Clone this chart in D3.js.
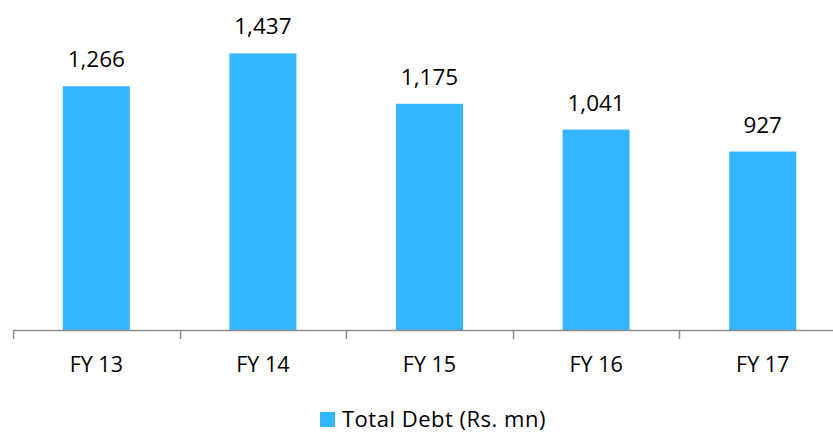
<!DOCTYPE html>
<html><head><meta charset="utf-8">
<script src="https://cdn.jsdelivr.net/npm/d3@7"></script>
<style>body{margin:0;background:#fff}svg{display:block}</style>
</head><body>
<script>
const categories = ["FY 13","FY 14","FY 15","FY 16","FY 17"];
const values = [1266,1437,1175,1041,927];
const seriesName = "Total Debt (Rs. mn)";

const W=833,H=434;
const svg=d3.select("body").append("svg").attr("width",W).attr("height",H);
const font="'Open Sans', Calibri, sans-serif";
const color="#33b5ff";

const x=d3.scaleBand().domain(categories.concat(["_"])).range([13,13+166.6*6]).paddingInner(0).paddingOuter(0);
const y=d3.scaleLinear().domain([0,1600]).range([330,22]);
const bw=67;

svg.selectAll("rect.bar").data(values).join("rect")
 .attr("x",(d,i)=>x(categories[i])+x.bandwidth()/2-bw/2)
 .attr("width",bw)
 .attr("y",d=>y(d)).attr("height",d=>y(0)-y(d))
 .attr("fill",color);

svg.selectAll("text.val").data(values).join("text")
 .attr("x",(d,i)=>x(categories[i])+x.bandwidth()/2)
 .attr("y",d=>y(d)-19)
 .attr("text-anchor","middle")
 .attr("font-family",font).attr("font-size",22.5).attr("fill","#000")
 .text(d=>d3.format(",")(d));

// axis
const ax=svg.append("g");
ax.append("line").attr("x1",13).attr("x2",W).attr("y1",330.5).attr("y2",330.5).attr("stroke","#8c8c8c").attr("stroke-width",1.5);
categories.forEach(c=>{
  ax.append("line").attr("x1",Math.round(x(c))+0.5).attr("x2",Math.round(x(c))+0.5).attr("y1",330).attr("y2",339).attr("stroke","#8c8c8c").attr("stroke-width",1.5);
  ax.append("text").attr("x",x(c)+x.bandwidth()/2).attr("y",372).attr("text-anchor","middle")
   .attr("font-family",font).attr("font-size",21.5).attr("fill","#000").text(c);
});

// legend
const lg=svg.append("g");
lg.append("rect").attr("x",320).attr("y",412).attr("width",15).attr("height",15).attr("fill",color);
lg.append("text").attr("x",342).attr("y",427).attr("font-family",font).attr("font-size",22).attr("letter-spacing",0.5).attr("fill","#000").text(seriesName);
</script>
</body></html>
